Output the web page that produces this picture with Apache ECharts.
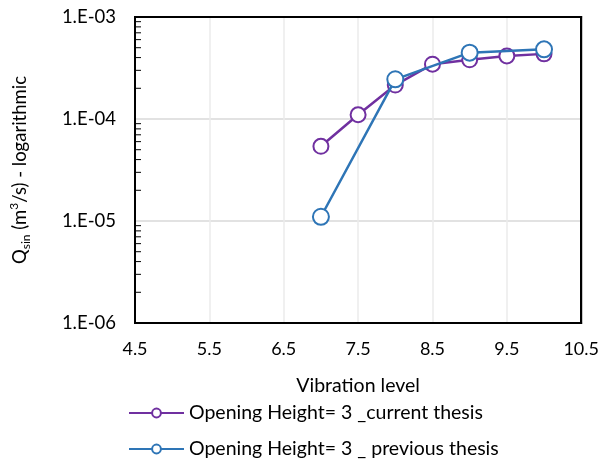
<!DOCTYPE html>
<html>
<head>
<meta charset="utf-8">
<script src="https://cdn.jsdelivr.net/npm/echarts@6/dist/echarts.min.js"></script>
<style>html,body{margin:0;padding:0;background:#fff}#c{width:602px;height:462px}</style>
</head>
<body>
<div id="c"></div>
<script>
// ---- data ----
var seriesNames = ['Opening Height= 3 _current thesis', 'Opening Height= 3 _ previous thesis'];
var currentX = [7, 7.5, 8, 8.5, 9, 9.5, 10];
var currentY = [5.4e-5, 1.1e-4, 2.15e-4, 3.45e-4, 3.8e-4, 4.15e-4, 4.35e-4];
var previousX = [7, 8, 9, 10];
var previousY = [1.1e-5, 2.45e-4, 4.47e-4, 4.82e-4];
var xTickLabels = ['4.5', '5.5', '6.5', '7.5', '8.5', '9.5', '10.5'];
var yTickLabels = ['1.E-06', '1.E-05', '1.E-04', '1.E-03'];
var yDecades = [1e-6, 1e-5, 1e-4];

function pairs(xs, ys) { return xs.map(function (x, i) { return [x, ys[i]]; }); }
var minorTicks = [];
yDecades.forEach(function (d) { for (var k = 2; k <= 9; k++) minorTicks.push([4.5, k * d]); });

var FONT = 'Lato';
var frameAxisX = { type: 'value', position: 'top', min: 4.5, max: 10.5, interval: 1,
  axisLine: { show: true, lineStyle: { color: '#000', width: 2 } }, axisTick: { show: false },
  axisLabel: { show: false }, splitLine: { show: false } };
var frameAxisY = { type: 'log', logBase: 10, position: 'right', min: 1e-6, max: 1e-3,
  axisLine: { show: true, lineStyle: { color: '#000', width: 2 } }, axisTick: { show: false },
  axisLabel: { show: false }, splitLine: { show: false } };

var chart = echarts.init(document.getElementById('c'), null, { renderer: 'canvas' });
chart.setOption({
  animation: false,
  backgroundColor: '#fff',
  textStyle: { fontFamily: FONT },
  grid: { left: 131, right: 20, top: 17, bottom: 139, show: true, borderColor: '#000', borderWidth: 2, backgroundColor: '#fff' },
  xAxis: [{
    type: 'value', min: 4.5, max: 10.5, interval: 1,
    axisLine: { show: true, lineStyle: { color: '#000', width: 2 } },
    axisTick: { show: false },
    axisLabel: { margin: 17, color: '#000', fontSize: 18, fontFamily: FONT,
      formatter: function (v) { var i = Math.round(v - 4.5); return xTickLabels[i] !== undefined ? xTickLabels[i] : ''; } },
    splitLine: { show: true, lineStyle: { color: '#ebebeb', width: 1.5 } },
    name: 'Vibration level', nameLocation: 'middle', nameGap: 53,
    nameTextStyle: { color: '#000', fontSize: 19.5, fontFamily: FONT }
  }, frameAxisX],
  yAxis: [{
    type: 'log', logBase: 10, min: 1e-6, max: 1e-3,
    axisLine: { show: true, lineStyle: { color: '#000', width: 2 } },
    axisTick: { show: false },
    axisLabel: { margin: 19, color: '#000', fontSize: 18.5, fontFamily: FONT,
      formatter: function (v) { var e = Math.round(Math.log10(v)) + 6; return yTickLabels[e] !== undefined ? yTickLabels[e] : ''; } },
    splitLine: { show: true, lineStyle: { color: '#d9d9d9', width: 1.5 } },
    name: '{a|Q}{s|sin}{a| (m}{p|3}{a|/s) - logarithmic}',
    nameLocation: 'middle', nameGap: 103, nameRotate: 90,
    nameTextStyle: {
      color: '#000', fontFamily: FONT,
      rich: {
        a: { fontSize: 18.5, color: '#000', fontFamily: FONT, lineHeight: 24 },
        s: { fontSize: 12, color: '#000', fontFamily: FONT, verticalAlign: 'bottom', lineHeight: 24, padding: [7, 0, 0, 0] },
        p: { fontSize: 12, color: '#000', fontFamily: FONT, verticalAlign: 'top', lineHeight: 24, padding: [0, 0, 7, 0] }
      }
    }
  }, frameAxisY],
  legend: {
    data: seriesNames, orient: 'vertical', left: 128, top: 403, padding: 0, height: 80,
    itemWidth: 55, itemHeight: 11, itemGap: 16,
    textStyle: { color: '#000', fontSize: 19.5, fontFamily: FONT }
  },
  series: [
    {
      type: 'custom', silent: true, z: 1,
      data: minorTicks,
      renderItem: function (params, api) {
        var p = api.coord([api.value(0), api.value(1)]);
        return { type: 'line', shape: { x1: p[0], y1: p[1], x2: p[0] + 6, y2: p[1] }, style: { stroke: '#000', lineWidth: 1 } };
      }
    },
    {
      name: seriesNames[0], type: 'line', data: pairs(currentX, currentY),
      symbol: 'emptyCircle', symbolSize: 15, z: 3,
      lineStyle: { color: '#7030A0', width: 2.5 },
      itemStyle: { color: '#7030A0', borderColor: '#7030A0', borderWidth: 2 }
    },
    {
      name: seriesNames[1], type: 'line', data: pairs(previousX, previousY),
      symbol: 'emptyCircle', symbolSize: 16, z: 4,
      lineStyle: { color: '#2E75B6', width: 2.5 },
      itemStyle: { color: '#2E75B6', borderColor: '#2E75B6', borderWidth: 2 }
    }
  ]
});
</script>
</body>
</html>
